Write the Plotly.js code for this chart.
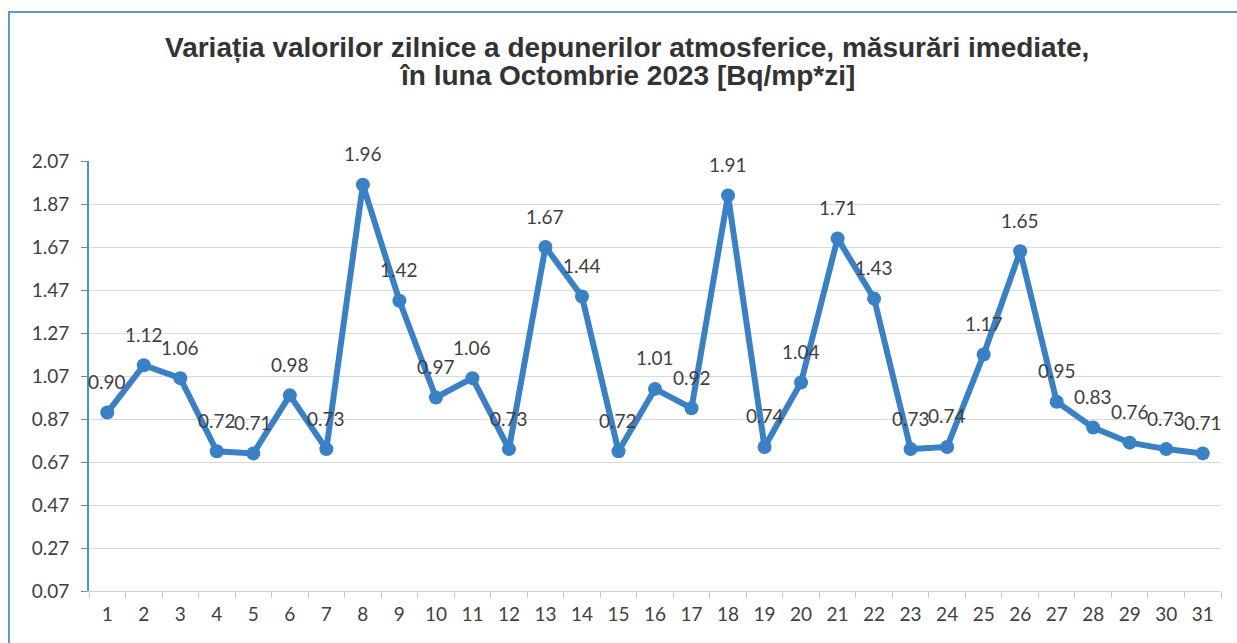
<!DOCTYPE html>
<html><head><meta charset="utf-8">
<script src="https://cdn.plot.ly/plotly-3.0.1.min.js"></script>
<style>
html,body{margin:0;padding:0;background:#fff;overflow:hidden;}
#frame{position:absolute;left:8px;top:11px;width:1240px;height:640px;border-left:2px solid #5a9ad6;border-top:2px solid #5a9ad6;}
#chart{position:absolute;left:0;top:0;width:1237px;height:643px;}
</style></head>
<body>
<div id="frame"></div>
<div id="chart"></div>
<script>
const days = ['1','2','3','4','5','6','7','8','9','10','11','12','13','14','15','16','17','18','19','20','21','22','23','24','25','26','27','28','29','30','31'];
const values = [0.90,1.12,1.06,0.72,0.71,0.98,0.73,1.96,1.42,0.97,1.06,0.73,1.67,1.44,0.72,1.01,0.92,1.91,0.74,1.04,1.71,1.43,0.73,0.74,1.17,1.65,0.95,0.83,0.76,0.73,0.71];
const yTicks = [0.07,0.27,0.47,0.67,0.87,1.07,1.27,1.47,1.67,1.87,2.07];
const titleLines = ['Variația valorilor zilnice a depunerilor atmosferice, măsurări imediate,', 'în luna Octombrie 2023 [Bq/mp*zi]'];

const lineColor = '#3a80c4';
const labelFont = {family:'Lato, "Open Sans", sans-serif', size:19, color:'#404040'};
const titleFont = {family:'"Liberation Sans", Arial, sans-serif', size:28, color:'#333333'};

const trace = {
  x: days, y: values, type:'scatter', mode:'lines+markers',
  line:{color:lineColor, width:6},
  marker:{color:lineColor, size:14},
  hoverinfo:'x+y', cliponaxis:false
};

const annotations = values.map((v,i)=>({
  x: i, y: v, xref:'x', yref:'y', text: v.toFixed(2),
  showarrow:false, yshift:31, font:labelFont
}));
const titleShifts = [114, 86];
titleLines.forEach((t,k)=>annotations.push({
  text: '<b>'+t+'</b>', xref:'paper', yref:'paper', x:0.5, y:1, yanchor:'middle', yshift:titleShifts[k],
  xshift:-28, showarrow:false, font:titleFont
}));

const layout = {
  width:1237, height:643,
  margin:{l:89, r:16, t:161, b:52},
  paper_bgcolor:'rgba(0,0,0,0)', plot_bgcolor:'rgba(0,0,0,0)',
  showlegend:false,
  xaxis:{
    type:'category', range:[-0.5,30.5], tickson:'boundaries',
    ticks:'outside', ticklen:6, tickcolor:'#c8c8c8',
    showline:true, linecolor:'#d0d0d0', linewidth:1,
    showgrid:false, zeroline:false,
    tickfont:labelFont, ticklabelstandoff:6
  },
  yaxis:{
    range:[0.07,2.07], tickvals:yTicks, ticktext:yTicks.map(t=>t.toFixed(2)),
    ticks:'outside', ticklen:6, tickcolor:'#4a90d9',
    showline:true, linecolor:'#4a90d9', linewidth:2,
    showgrid:true, gridcolor:'#d9d9d9', gridwidth:1,
    zeroline:false, tickfont:labelFont, ticklabelstandoff:8
  },
  annotations: annotations
};

Plotly.newPlot('chart',[trace],layout,{displayModeBar:false, staticPlot:true});
</script>
</body></html>
